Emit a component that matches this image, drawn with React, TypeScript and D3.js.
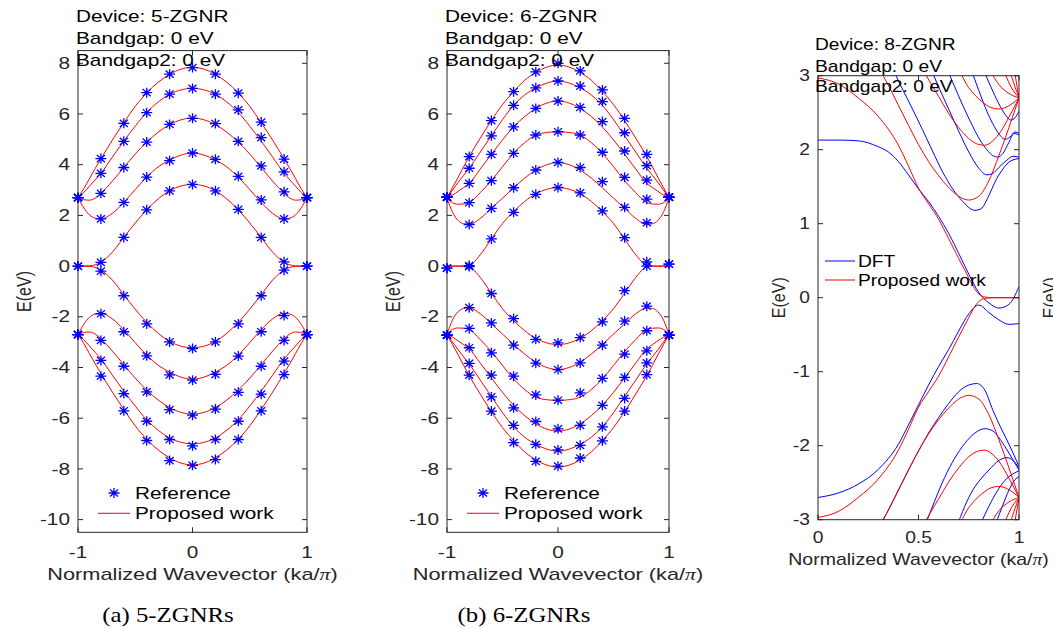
import React from 'react';
import * as d3 from 'd3';

const W = 1053;
const H = 629;
const SANS = "'Liberation Sans', Arial, sans-serif";
const SERIF = "'Liberation Serif', 'Times New Roman', serif";
const AX = '#262626';
const RED = '#ff0000';
const BLUE = '#0000ff';

// ---------- shared k grids (a, b) ----------
const kMark = [-1, -0.8, -0.6, -0.4, -0.2, 0, 0.2, 0.4, 0.6, 0.8, 1];
const kLine = [-1, -0.95, -0.9, -0.85, -0.8, -0.7, -0.6, -0.5, -0.4, -0.3, -0.2, -0.1, 0, 0.1, 0.2, 0.3, 0.4, 0.5, 0.6, 0.7, 0.8, 0.85, 0.9, 0.95, 1];
const xTicksAB = [-1, 0, 1];
const yTicksAB = [-10, -8, -6, -4, -2, 0, 2, 4, 6, 8];

// ---------- (a) 5-ZGNR ----------
const z5LineCond = [
  [0, 0, 0.01, 0.05, 0.15, 0.55, 1.13, 1.7, 2.22, 2.65, 2.97, 3.16, 3.22, 3.16, 2.97, 2.65, 2.22, 1.7, 1.13, 0.55, 0.15, 0.05, 0.01, 0, 0],
  [2.7, 2.3, 2.02, 1.89, 1.86, 2.08, 2.51, 3.02, 3.51, 3.91, 4.18, 4.38, 4.46, 4.38, 4.18, 3.91, 3.51, 3.02, 2.51, 2.08, 1.86, 1.89, 2.02, 2.3, 2.7],
  [2.7, 2.62, 2.6, 2.68, 2.87, 3.35, 3.89, 4.42, 4.89, 5.28, 5.58, 5.77, 5.84, 5.77, 5.58, 5.28, 4.89, 4.42, 3.89, 3.35, 2.87, 2.68, 2.6, 2.62, 2.7],
  [2.7, 2.9, 3.15, 3.4, 3.66, 4.3, 4.93, 5.52, 6.06, 6.47, 6.78, 6.95, 7.01, 6.95, 6.78, 6.47, 6.06, 5.52, 4.93, 4.3, 3.66, 3.4, 3.15, 2.9, 2.7],
  [2.7, 3.05, 3.45, 3.85, 4.23, 4.97, 5.65, 6.3, 6.83, 7.25, 7.56, 7.77, 7.84, 7.77, 7.56, 7.25, 6.83, 6.3, 5.65, 4.97, 4.23, 3.85, 3.45, 3.05, 2.7],
];
const z5LineVal = [
  [0, 0, -0.01, -0.05, -0.15, -0.55, -1.13, -1.7, -2.22, -2.65, -2.97, -3.16, -3.22, -3.16, -2.97, -2.65, -2.22, -1.7, -1.13, -0.55, -0.15, -0.05, -0.01, 0, 0],
  [-2.7, -2.3, -2.02, -1.89, -1.86, -2.08, -2.51, -3.02, -3.51, -3.91, -4.18, -4.38, -4.46, -4.38, -4.18, -3.91, -3.51, -3.02, -2.51, -2.08, -1.86, -1.89, -2.02, -2.3, -2.7],
  [-2.7, -2.62, -2.6, -2.68, -2.87, -3.35, -3.89, -4.42, -4.89, -5.28, -5.58, -5.77, -5.84, -5.77, -5.58, -5.28, -4.89, -4.42, -3.89, -3.35, -2.87, -2.68, -2.6, -2.62, -2.7],
  [-2.7, -2.9, -3.15, -3.4, -3.66, -4.3, -4.93, -5.52, -6.06, -6.47, -6.78, -6.95, -7.01, -6.95, -6.78, -6.47, -6.06, -5.52, -4.93, -4.3, -3.66, -3.4, -3.15, -2.9, -2.7],
  [-2.7, -3.05, -3.45, -3.85, -4.23, -4.97, -5.65, -6.3, -6.83, -7.25, -7.56, -7.77, -7.84, -7.77, -7.56, -7.25, -6.83, -6.3, -5.65, -4.97, -4.23, -3.85, -3.45, -3.05, -2.7],
];
const z5MarkCond = [
  [0, 0.15, 1.13, 2.22, 2.97, 3.22, 2.97, 2.24, 1.13, 0.17, 0],
  [2.7, 1.86, 2.51, 3.51, 4.16, 4.46, 4.21, 3.54, 2.61, 1.86, 2.7],
  [2.7, 2.87, 3.89, 4.89, 5.59, 5.83, 5.62, 4.92, 3.95, 2.93, 2.7],
  [2.7, 3.66, 4.92, 6.05, 6.78, 7.01, 6.78, 6.16, 5.07, 3.72, 2.7],
  [2.7, 4.24, 5.63, 6.84, 7.57, 7.83, 7.57, 6.82, 5.68, 4.22, 2.7],
];
const z5MarkVal = [
  [0, -0.2, -1.17, -2.28, -2.99, -3.25, -2.99, -2.28, -1.17, -0.16, 0],
  [-2.7, -1.88, -2.59, -3.54, -4.29, -4.5, -4.27, -3.55, -2.59, -1.95, -2.7],
  [-2.7, -2.93, -3.95, -4.96, -5.66, -5.88, -5.64, -4.98, -3.95, -2.93, -2.7],
  [-2.7, -3.72, -5.03, -6.12, -6.84, -7.09, -6.84, -6.12, -5.05, -3.75, -2.7],
  [-2.7, -4.34, -5.71, -6.88, -7.67, -7.86, -7.63, -6.84, -5.71, -4.28, -2.7],
];

// ---------- (b) 6-ZGNR ----------
const z6LineCond = [
  [0, 0, 0, 0.005, 0.03, 0.45, 1.07, 1.68, 2.15, 2.55, 2.85, 3.03, 3.1, 3.03, 2.85, 2.55, 2.15, 1.68, 1.07, 0.45, 0.03, 0.005, 0, 0, 0],
  [2.7, 2.12, 1.8, 1.67, 1.65, 1.88, 2.28, 2.68, 3.09, 3.47, 3.79, 4.0, 4.08, 4.0, 3.79, 3.47, 3.09, 2.68, 2.28, 1.88, 1.65, 1.67, 1.8, 2.12, 2.7],
  [2.7, 2.5, 2.44, 2.45, 2.5, 2.9, 3.37, 3.92, 4.45, 4.87, 5.17, 5.27, 5.3, 5.27, 5.17, 4.87, 4.45, 3.92, 3.37, 2.9, 2.5, 2.45, 2.44, 2.5, 2.7],
  [2.7, 2.8, 2.95, 3.1, 3.26, 3.83, 4.41, 4.98, 5.49, 5.9, 6.22, 6.43, 6.51, 6.43, 6.22, 5.9, 5.49, 4.98, 4.41, 3.83, 3.26, 3.1, 2.95, 2.8, 2.7],
  [2.7, 3.0, 3.3, 3.58, 3.86, 4.5, 5.14, 5.78, 6.34, 6.75, 7.03, 7.22, 7.3, 7.22, 7.03, 6.75, 6.34, 5.78, 5.14, 4.5, 3.86, 3.58, 3.3, 3.0, 2.7],
  [2.7, 3.1, 3.5, 3.92, 4.32, 5.05, 5.74, 6.37, 6.88, 7.33, 7.64, 7.85, 7.93, 7.85, 7.64, 7.33, 6.88, 6.37, 5.74, 5.05, 4.32, 3.92, 3.5, 3.1, 2.7],
];
const z6LineVal = [
  [0, 0, 0, -0.005, -0.03, -0.45, -1.07, -1.68, -2.15, -2.55, -2.85, -3.03, -3.1, -3.03, -2.85, -2.55, -2.15, -1.68, -1.07, -0.45, -0.03, -0.005, 0, 0, 0],
  [-2.7, -2.12, -1.8, -1.67, -1.65, -1.88, -2.28, -2.68, -3.09, -3.47, -3.79, -4.0, -4.08, -4.0, -3.79, -3.47, -3.09, -2.68, -2.28, -1.88, -1.65, -1.67, -1.8, -2.12, -2.7],
  [-2.7, -2.5, -2.44, -2.45, -2.5, -2.9, -3.37, -3.92, -4.45, -4.87, -5.17, -5.27, -5.3, -5.27, -5.17, -4.87, -4.45, -3.92, -3.37, -2.9, -2.5, -2.45, -2.44, -2.5, -2.7],
  [-2.7, -2.8, -2.95, -3.1, -3.26, -3.83, -4.41, -4.98, -5.49, -5.9, -6.22, -6.43, -6.51, -6.43, -6.22, -5.9, -5.49, -4.98, -4.41, -3.83, -3.26, -3.1, -2.95, -2.8, -2.7],
  [-2.7, -3.0, -3.3, -3.58, -3.86, -4.5, -5.14, -5.78, -6.34, -6.75, -7.03, -7.22, -7.3, -7.22, -7.03, -6.75, -6.34, -5.78, -5.14, -4.5, -3.86, -3.58, -3.3, -3.0, -2.7],
  [-2.7, -3.1, -3.5, -3.92, -4.32, -5.05, -5.74, -6.37, -6.88, -7.33, -7.64, -7.85, -7.93, -7.85, -7.64, -7.33, -6.88, -6.37, -5.74, -5.05, -4.32, -3.92, -3.5, -3.1, -2.7],
];
const z6MarkCond = [
  [-0.08, 0.02, 1.07, 2.12, 2.83, 3.1, 2.89, 2.18, 1.12, 0.17, 0.08],
  [2.72, 1.64, 2.28, 3.09, 3.79, 4.09, 3.89, 3.33, 2.32, 1.71, 2.72],
  [2.72, 2.5, 3.37, 4.45, 5.17, 5.3, 5.17, 4.49, 3.5, 2.64, 2.72],
  [2.72, 3.26, 4.41, 5.49, 6.22, 6.51, 6.26, 5.7, 4.54, 3.39, 2.72],
  [2.72, 3.86, 5.14, 6.34, 7.03, 7.3, 7.1, 6.49, 5.26, 3.96, 2.72],
  [2.72, 4.32, 5.74, 6.88, 7.66, 8.0, 7.7, 6.95, 5.83, 4.41, 2.72],
];
const z6MarkVal = [
  [-0.08, -0.02, -1.08, -2.07, -2.89, -3.03, -2.82, -2.2, -0.97, 0.0, 0.08],
  [-2.72, -1.64, -2.24, -3.12, -3.83, -4.08, -3.82, -3.12, -2.17, -1.58, -2.72],
  [-2.72, -2.46, -3.42, -4.34, -5.08, -5.29, -5.0, -4.43, -3.47, -2.55, -2.72],
  [-2.72, -3.22, -4.3, -5.59, -6.13, -6.42, -6.28, -5.49, -4.39, -3.34, -2.72],
  [-2.72, -3.84, -5.16, -6.28, -7.03, -7.25, -7.07, -6.34, -5.22, -3.82, -2.72],
  [-2.72, -4.3, -5.72, -6.96, -7.7, -7.89, -7.57, -6.89, -5.72, -4.28, -2.72],
];

// ---------- (c) 8-ZGNR : [k, E] pairs ----------
const xTicksC = [0, 0.5, 1];
const yTicksC = [-3, -2, -1, 0, 1, 2, 3];

const dftBands: [number, number][][] = [
  [[0, 2.13], [0.1, 2.13], [0.2, 2.12], [0.3, 2.04], [0.35, 1.97], [0.4, 1.84], [0.45, 1.66], [0.5, 1.47], [0.55, 1.3], [0.6, 1.1], [0.65, 0.87], [0.7, 0.6], [0.75, 0.32], [0.8, 0.07], [0.85, -0.07], [0.9, -0.14], [0.95, -0.09], [1, 0.15]],
  [[0, -2.7], [0.1, -2.64], [0.2, -2.52], [0.3, -2.32], [0.4, -1.98], [0.45, -1.72], [0.5, -1.45], [0.55, -1.18], [0.6, -0.93], [0.65, -0.7], [0.7, -0.45], [0.75, -0.22], [0.8, -0.1], [0.85, -0.2], [0.9, -0.3], [0.95, -0.36], [1, -0.35]],
  [[0.37, 3.1], [0.42, 2.82], [0.47, 2.55], [0.52, 2.27], [0.57, 1.98], [0.62, 1.7], [0.67, 1.47], [0.72, 1.3], [0.76, 1.2], [0.78, 1.18], [0.81, 1.2], [0.85, 1.38], [0.88, 1.56], [0.92, 1.74], [0.96, 1.85], [1, 1.88]],
  [[0.3, -3.12], [0.35, -2.87], [0.4, -2.6], [0.45, -2.33], [0.5, -2.07], [0.55, -1.83], [0.6, -1.62], [0.65, -1.43], [0.7, -1.27], [0.75, -1.18], [0.79, -1.16], [0.83, -1.25], [0.87, -1.52], [0.91, -1.76], [0.95, -1.98], [1, -2.28]],
  [[0.56, 3.1], [0.6, 2.85], [0.65, 2.55], [0.7, 2.25], [0.75, 1.97], [0.8, 1.75], [0.84, 1.66], [0.87, 1.68], [0.9, 1.76], [0.94, 1.86], [0.97, 1.91], [1, 1.9]],
  [[0.53, -3.1], [0.58, -2.75], [0.63, -2.43], [0.68, -2.17], [0.73, -1.97], [0.78, -1.83], [0.83, -1.77], [0.87, -1.8], [0.91, -1.93], [0.95, -2.1], [1, -2.33]],
  [[0.64, 3.1], [0.68, 2.85], [0.72, 2.6], [0.76, 2.37], [0.8, 2.16], [0.84, 2.0], [0.87, 1.92], [0.895, 1.9], [0.92, 1.95], [0.95, 2.1], [0.975, 2.22], [1, 2.2]],
  [[0.69, -3.1], [0.73, -2.82], [0.77, -2.6], [0.81, -2.45], [0.85, -2.33], [0.9, -2.2], [0.94, -2.16], [0.97, -2.2], [1, -2.3]],
  [[0.76, 3.1], [0.8, 2.8], [0.84, 2.52], [0.88, 2.3], [0.91, 2.18], [0.93, 2.14], [0.955, 2.17], [0.98, 2.24], [1, 2.22]],
  [[0.81, -3.05], [0.85, -2.82], [0.89, -2.62], [0.93, -2.47], [0.97, -2.38], [1, -2.34]],
  [[0.82, 3.1], [0.86, 2.85], [0.9, 2.62], [0.93, 2.48], [0.96, 2.4], [0.98, 2.43], [1, 2.52]],
  [[0.885, -3.05], [0.92, -2.8], [0.95, -2.6], [0.98, -2.46], [1, -2.42]],
];

const proposedBands: [number, number][][] = [
  [[0, 2.97], [0.1, 2.89], [0.2, 2.7], [0.3, 2.45], [0.4, 2.06], [0.45, 1.78], [0.5, 1.48], [0.55, 1.27], [0.6, 1.06], [0.65, 0.8], [0.7, 0.53], [0.75, 0.27], [0.78, 0.12], [0.8, 0.05], [0.83, 0.01], [0.87, 0], [1, 0]],
  [[0, -2.97], [0.1, -2.89], [0.2, -2.7], [0.3, -2.45], [0.4, -2.06], [0.45, -1.78], [0.5, -1.48], [0.55, -1.27], [0.6, -1.06], [0.65, -0.8], [0.7, -0.53], [0.75, -0.27], [0.78, -0.12], [0.8, -0.05], [0.83, -0.01], [0.87, 0], [1, 0]],
  [[0.3, 3.12], [0.35, 2.87], [0.4, 2.6], [0.45, 2.33], [0.5, 2.07], [0.55, 1.84], [0.6, 1.65], [0.65, 1.49], [0.7, 1.37], [0.75, 1.32], [0.8, 1.37], [0.85, 1.58], [0.9, 1.92], [0.95, 2.3], [1, 2.7]],
  [[0.3, -3.12], [0.35, -2.87], [0.4, -2.6], [0.45, -2.33], [0.5, -2.07], [0.55, -1.84], [0.6, -1.65], [0.65, -1.49], [0.7, -1.37], [0.75, -1.32], [0.8, -1.37], [0.85, -1.58], [0.9, -1.92], [0.95, -2.3], [1, -2.7]],
  [[0.52, 3.1], [0.56, 2.9], [0.6, 2.72], [0.65, 2.49], [0.7, 2.3], [0.75, 2.15], [0.8, 2.07], [0.83, 2.06], [0.87, 2.12], [0.91, 2.25], [0.95, 2.44], [1, 2.7]],
  [[0.52, -3.1], [0.56, -2.9], [0.6, -2.72], [0.65, -2.49], [0.7, -2.3], [0.75, -2.15], [0.8, -2.07], [0.83, -2.06], [0.87, -2.12], [0.91, -2.25], [0.95, -2.44], [1, -2.7]],
  [[0.7, 3.1], [0.74, 2.88], [0.78, 2.74], [0.82, 2.64], [0.86, 2.57], [0.9, 2.55], [0.94, 2.58], [0.97, 2.63], [1, 2.7]],
  [[0.7, -3.1], [0.74, -2.88], [0.78, -2.74], [0.82, -2.64], [0.86, -2.57], [0.9, -2.55], [0.94, -2.58], [0.97, -2.63], [1, -2.7]],
  [[0.85, 3.1], [0.9, 2.88], [0.95, 2.76], [1, 2.7]],
  [[0.85, -3.1], [0.9, -2.88], [0.95, -2.76], [1, -2.7]],
  [[0.92, 3.1], [0.96, 2.85], [1, 2.7]],
  [[0.92, -3.1], [0.96, -2.85], [1, -2.7]],
  [[0.95, 3.1], [0.98, 2.85], [1, 2.7]],
  [[0.95, -3.1], [0.98, -2.85], [1, -2.7]],
  [[0.975, 3.1], [1, 2.7]],
  [[0.975, -3.1], [1, -2.7]],
];

// ---------- helpers ----------
type TP = {
  x: number; y: number; sx?: number; anchor?: string; size?: number; rot?: boolean;
  family?: string; fill?: string; dy?: string; children?: React.ReactNode; clip?: string;
};
function T({ x, y, sx = 1.3, anchor = 'start', size = 16, rot = false, family = SANS, fill = '#000', dy, children, clip }: TP) {
  const tr = `translate(${x},${y}) scale(${sx},1)` + (rot ? ' rotate(-90)' : '');
  return (
    <text transform={tr} textAnchor={anchor as any} fontSize={size} fontFamily={family} fill={fill} dy={dy} clipPath={clip}>
      {children}
    </text>
  );
}

const starPath = 'M-5.5,0H5.5M0,-5V5M-4,-3.6L4,3.6M-4,3.6L4,-3.6';

function XLabel({ x, y, sx }: { x: number; y: number; sx: number }) {
  return (
    <T x={x} y={y} sx={sx} anchor="middle" fill={AX}>
      Normalized Wavevector (ka/<tspan fontFamily={SERIF} fontStyle="italic">π</tspan>)
    </T>
  );
}

type BandProps = {
  id: string; left: number; right: number; top: number; bottom: number;
  lineCond: number[][]; lineVal: number[][]; markCond: number[][]; markVal: number[][];
  device: string; caption: string; captionX: number; legendX: number;
  fragX: number;
};

function BandPanel(p: BandProps) {
  const x = d3.scaleLinear().domain([-1, 1]).range([p.left, p.right]);
  const y = d3.scaleLinear().domain([-10.5, 8.5]).range([p.bottom, p.top]);
  const line = d3.line<number>().x((_, i) => x(kLine[i])).y((d) => y(d)).curve(d3.curveMonotoneX);
  const sx = 1.3;
  const tl = 5;
  const allLines = [...p.lineCond, ...p.lineVal];
  const allMarks = [...p.markCond, ...p.markVal];
  const lg = p.legendX;
  return (
    <g>
      <defs>
        <clipPath id={`clip-${p.id}`}>
          <rect x={p.left} y={p.top} width={p.right - p.left} height={p.bottom - p.top} />
        </clipPath>
        <clipPath id={`frag-${p.id}`}>
          <rect x={p.fragX} y={255} width={4} height={70} />
        </clipPath>
      </defs>
      <rect x={p.left} y={p.top} width={p.right - p.left} height={p.bottom - p.top} fill="none" stroke={AX} strokeWidth={1} />
      {yTicksAB.map((t) => (
        <g key={`y${t}`}>
          <line x1={p.left} x2={p.left + tl} y1={y(t)} y2={y(t)} stroke={AX} />
          <line x1={p.right} x2={p.right - tl} y1={y(t)} y2={y(t)} stroke={AX} />
          <T x={p.left - 8} y={y(t)} sx={sx} anchor="end" dy="0.35em" fill={AX}>{String(t)}</T>
        </g>
      ))}
      {xTicksAB.map((t) => (
        <g key={`x${t}`}>
          <line x1={x(t)} x2={x(t)} y1={p.bottom} y2={p.bottom - tl} stroke={AX} />
          <line x1={x(t)} x2={x(t)} y1={p.top} y2={p.top + tl} stroke={AX} />
          <T x={x(t)} y={p.bottom + 26} sx={sx} anchor="middle" fill={AX}>{String(t)}</T>
        </g>
      ))}
      <g clipPath={`url(#clip-${p.id})`}>
        {allLines.map((b, i) => (
          <path key={`l${i}`} d={line(b) || ''} fill="none" stroke={RED} strokeWidth={1} />
        ))}
      </g>
      {allMarks.map((b, i) =>
        b.map((v, j) => (
          <path key={`m${i}-${j}`} d={starPath} transform={`translate(${x(kMark[j])},${y(v)})`} fill="none" stroke={BLUE} strokeWidth={1.3} />
        ))
      )}
      <path d={starPath} transform={`translate(${lg + 16},${y(-8.95)})`} fill="none" stroke={BLUE} strokeWidth={1.3} />
      <T x={lg + 37} y={y(-8.95)} sx={sx} dy="0.35em">Reference</T>
      <line x1={lg} x2={lg + 32} y1={y(-9.75)} y2={y(-9.75)} stroke={RED} strokeWidth={1} />
      <T x={lg + 37} y={y(-9.75)} sx={sx} dy="0.35em">Proposed work</T>
      <T x={p.left - 47} y={(p.top + p.bottom) / 2} sx={sx} rot anchor="middle" fill={AX}>E(eV)</T>
      <T x={p.fragX + 12} y={(p.top + p.bottom) / 2 + 4} sx={sx} rot anchor="middle" fill={AX} clip={`url(#frag-${p.id})`}>E(eV)</T>
      <XLabel x={(p.left + p.right) / 2} y={p.bottom + 48} sx={1.36} />
      <T x={p.left - 2} y={21.5} sx={sx}>{`Device: ${p.device}`}</T>
      <T x={p.left - 2} y={43.5} sx={sx}>Bandgap: 0 eV</T>
      <T x={p.left - 2} y={66} sx={sx}>Bandgap2: 0 eV</T>
      <T x={p.captionX} y={622} sx={1.24} size={20} family={SERIF} anchor="middle">{p.caption}</T>
    </g>
  );
}

function PanelC() {
  const left = 818, right = 1019, top = 75.7, bottom = 519.7;
  const x = d3.scaleLinear().domain([0, 1]).range([left, right]);
  const y = d3.scaleLinear().domain([-3, 3]).range([bottom, top]);
  const line = d3.line<[number, number]>().x((d) => x(d[0])).y((d) => y(d[1])).curve(d3.curveMonotoneX);
  const sx = 1.2;
  const tl = 5;
  return (
    <g>
      <defs>
        <clipPath id="clip-c">
          <rect x={left} y={top} width={right - left} height={bottom - top} />
        </clipPath>
      </defs>
      <g clipPath="url(#clip-c)">
        {dftBands.map((b, i) => (
          <path key={`d${i}`} d={line(b) || ''} fill="none" stroke={BLUE} strokeWidth={1} />
        ))}
        {proposedBands.map((b, i) => (
          <path key={`p${i}`} d={line(b) || ''} fill="none" stroke={RED} strokeWidth={1} />
        ))}
      </g>
      <rect x={left} y={top} width={right - left} height={bottom - top} fill="none" stroke={AX} strokeWidth={1} />
      {yTicksC.map((t) => (
        <g key={`cy${t}`}>
          <line x1={left} x2={left + tl} y1={y(t)} y2={y(t)} stroke={AX} />
          <line x1={right} x2={right - tl} y1={y(t)} y2={y(t)} stroke={AX} />
          <T x={left - 8} y={y(t)} sx={sx} anchor="end" dy="0.35em" fill={AX}>{String(t)}</T>
        </g>
      ))}
      {xTicksC.map((t) => (
        <g key={`cx${t}`}>
          <line x1={x(t)} x2={x(t)} y1={bottom} y2={bottom - tl} stroke={AX} />
          <line x1={x(t)} x2={x(t)} y1={top} y2={top + tl} stroke={AX} />
          <T x={x(t)} y={bottom + 23} sx={sx} anchor="middle" fill={AX}>{String(t)}</T>
        </g>
      ))}
      <line x1={825} x2={855} y1={261} y2={261} stroke={BLUE} strokeWidth={1} />
      <T x={858} y={261} sx={sx} dy="0.35em">DFT</T>
      <line x1={825} x2={855} y1={280} y2={280} stroke="#ff0000" strokeWidth={1} />
      <T x={858} y={280} sx={sx} dy="0.35em">Proposed work</T>
      <T x={785} y={(top + bottom) / 2} sx={sx} rot anchor="middle" fill={AX}>E(eV)</T>
      <T x={1056} y={(top + bottom) / 2} sx={sx} rot anchor="middle" fill={AX}>E(eV)</T>
      <XLabel x={(left + right) / 2} y={565} sx={1.22} />
      <T x={815} y={50} sx={sx}>Device: 8-ZGNR</T>
      <T x={815} y={71.5} sx={sx}>Bandgap: 0 eV</T>
      <T x={815} y={92} sx={sx}>Bandgap2: 0 eV</T>
    </g>
  );
}

export default function App() {
  return (
    <svg width={W} height={H} style={{ position: 'absolute', left: 0, top: 0, background: '#fff' }}>
      <rect x={0} y={0} width={W} height={H} fill="#fff" />
      <BandPanel
        id="a" left={78} right={307} top={50.6} bottom={532.3}
        lineCond={z5LineCond} lineVal={z5LineVal} markCond={z5MarkCond} markVal={z5MarkVal}
        device="5-ZGNR" caption="(a) 5-ZGNRs" captionX={168} legendX={98} fragX={331}
      />
      <BandPanel
        id="b" left={447} right={669} top={50.6} bottom={532.3}
        lineCond={z6LineCond} lineVal={z6LineVal} markCond={z6MarkCond} markVal={z6MarkVal}
        device="6-ZGNR" caption="(b) 6-ZGNRs" captionX={524} legendX={467} fragX={691}
      />
      <PanelC />
    </svg>
  );
}
